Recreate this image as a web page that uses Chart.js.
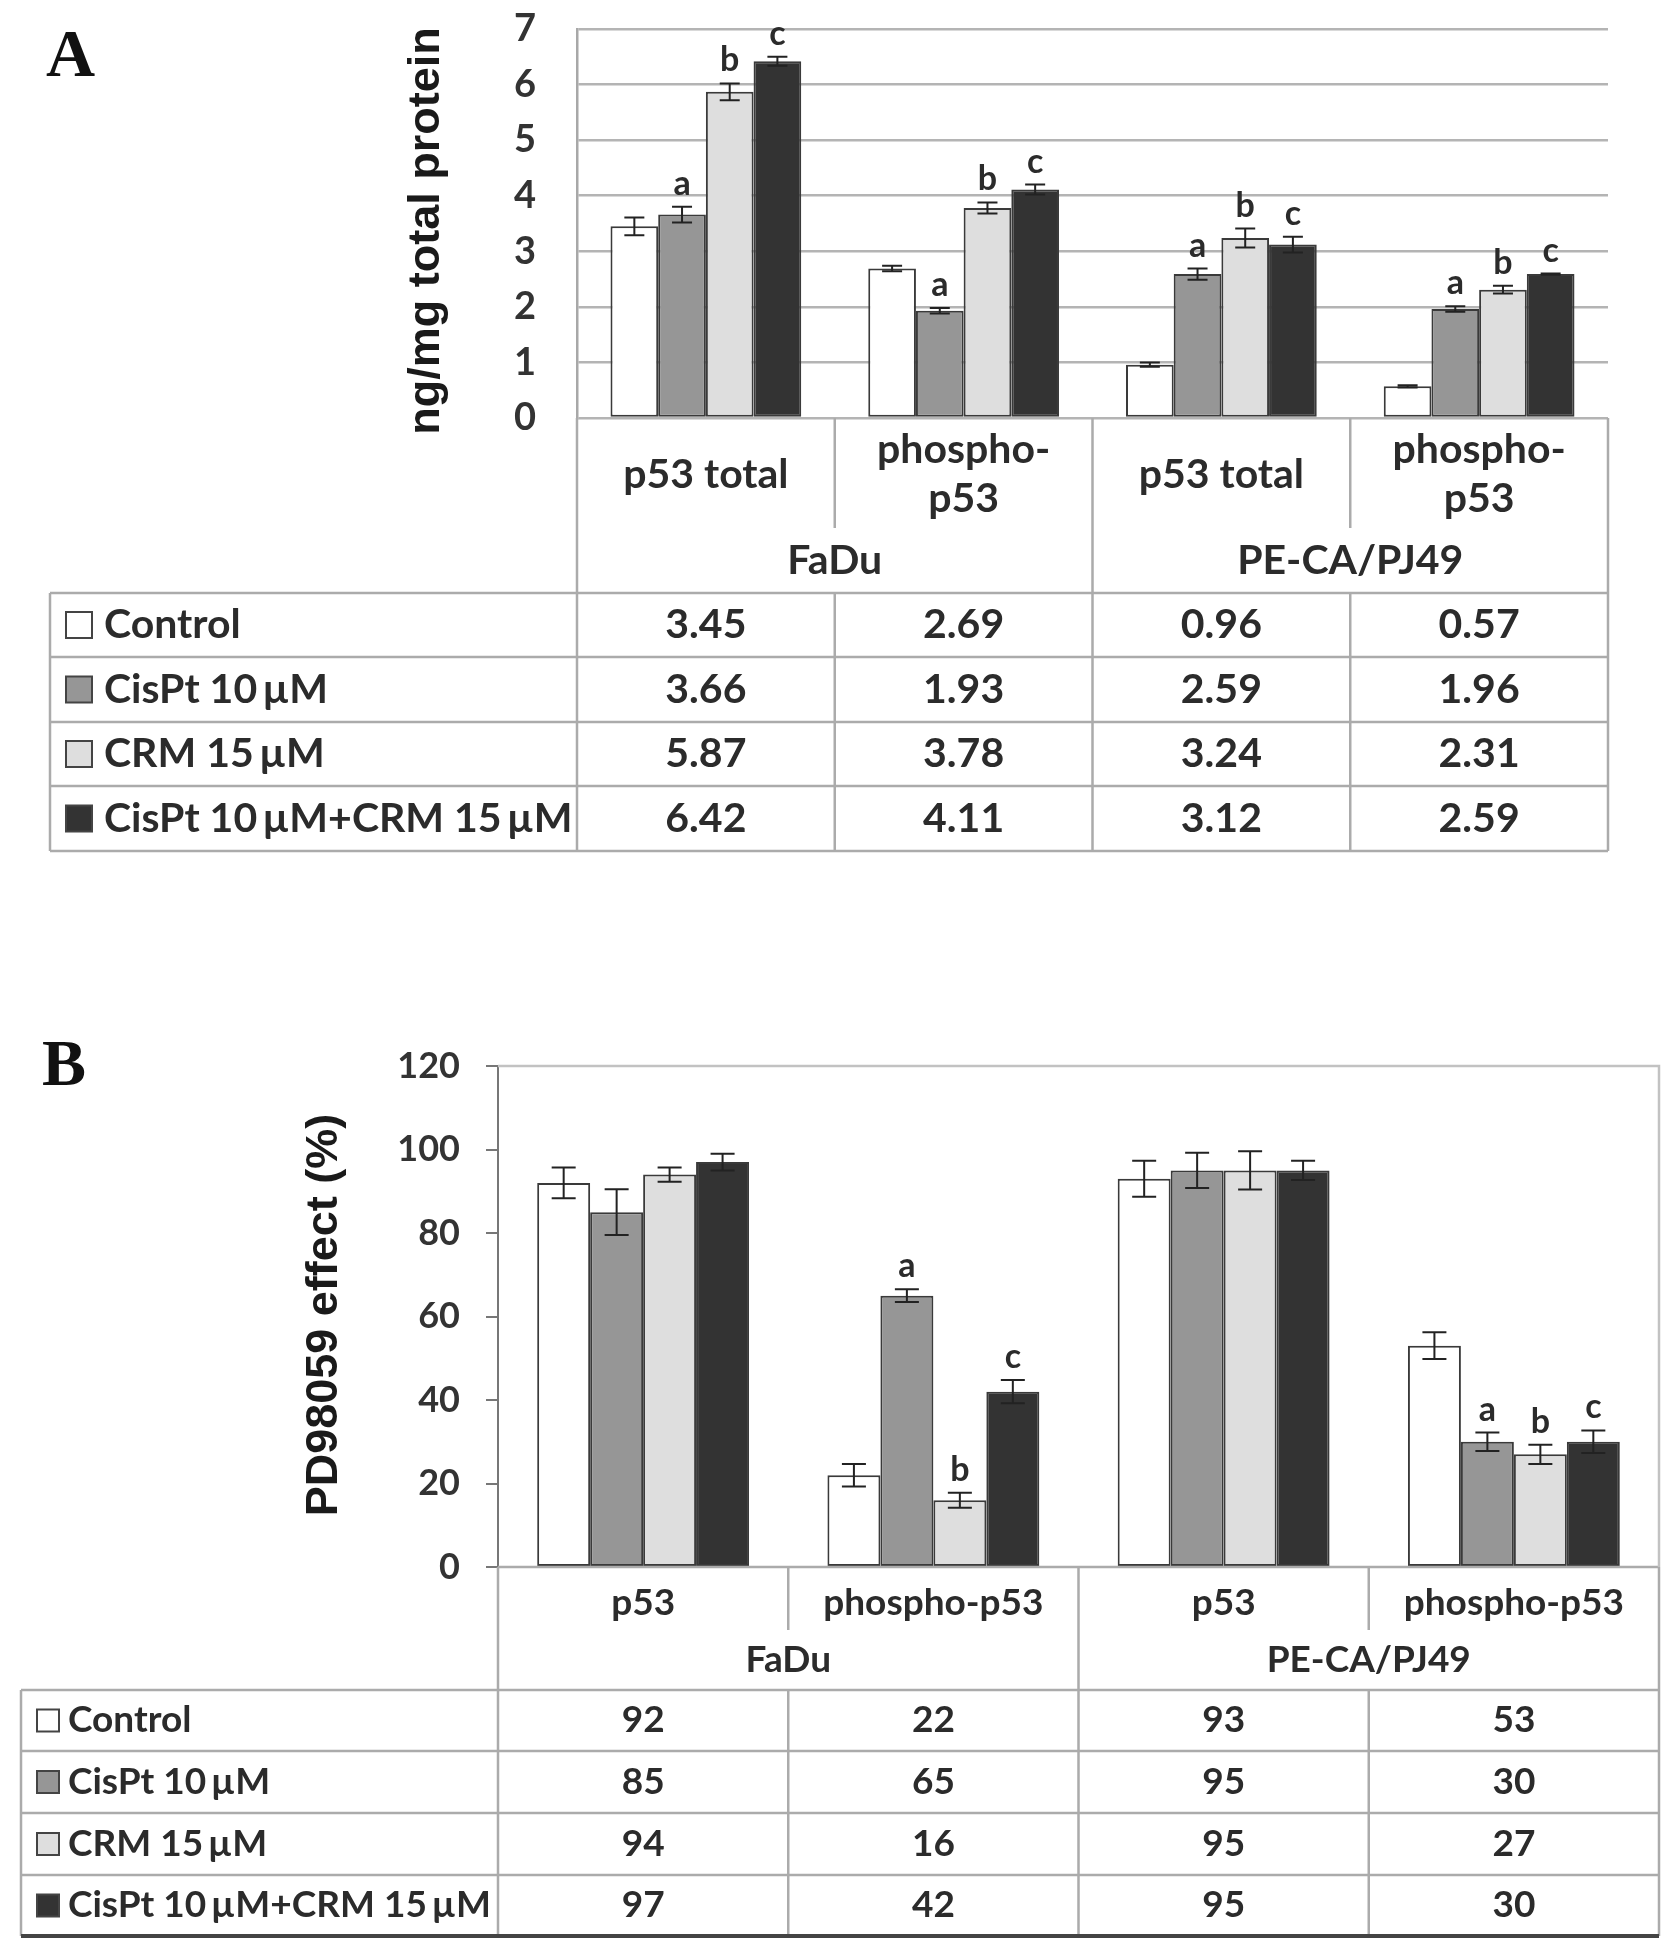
<!DOCTYPE html>
<html>
<head>
<meta charset="utf-8">
<script src="https://cdn.jsdelivr.net/npm/chart.js@4.4.1/dist/chart.umd.min.js"></script>
<style>
  body { margin: 0; background: #fff; width: 1677px; height: 1955px; position: relative; overflow: hidden; }
  canvas { position: absolute; left: 0; }
  #chartA { top: 0; }
  #chartB { top: 880px; }
</style>
</head>
<body>
<canvas id="chartA" width="1677" height="880"></canvas>
<canvas id="chartB" width="1677" height="1075"></canvas>
<script>
// treatments (series) and their fills
const seriesNames = ['Control', 'CisPt 10\u2009\u00b5M', 'CRM 15\u2009\u00b5M', 'CisPt 10\u2009\u00b5M+CRM 15\u2009\u00b5M'];
const seriesColors = ['#ffffff', '#969696', '#dedede', '#333333'];
const groups = ['FaDu', 'PE-CA/PJ49'];

// panel A: ng/mg total protein
const catsA = [['p53 total'], ['phospho-', 'p53'], ['p53 total'], ['phospho-', 'p53']];
const controlA = [3.45, 2.69, 0.96, 0.57];
const cispA = [3.66, 1.93, 2.59, 1.96];
const crmA = [5.87, 3.78, 3.24, 2.31];
const comboA = [6.42, 4.11, 3.12, 2.59];
const errA = [
  [0.16, 0.05, 0.04, 0.02],
  [0.14, 0.05, 0.10, 0.05],
  [0.15, 0.10, 0.17, 0.07],
  [0.08, 0.09, 0.14, 0.01]
];
const lettersA = [
  ['', '', '', ''],
  ['a', 'a', 'a', 'a'],
  ['b', 'b', 'b', 'b'],
  ['c', 'c', 'c', 'c']
];
const ticksA = [0, 1, 2, 3, 4, 5, 6, 7];

// panel B: PD98059 effect (%)
const catsB = [['p53'], ['phospho-p53'], ['p53'], ['phospho-p53']];
const controlB = [92, 22, 93, 53];
const cispB = [85, 65, 95, 30];
const crmB = [94, 16, 95, 27];
const comboB = [97, 42, 95, 30];
const errB = [
  [3.7, 2.7, 4.3, 3.2],
  [5.5, 1.5, 4.2, 2.2],
  [1.7, 1.8, 4.6, 2.3],
  [2.0, 2.8, 2.3, 2.7]
];
const lettersB = [
  ['', '', '', ''],
  ['', 'a', '', 'a'],
  ['', 'b', '', 'b'],
  ['', 'c', '', 'c']
];
const ticksB = [0, 20, 40, 60, 80, 100, 120];

const FONT = 'Lato, "Open Sans", sans-serif';
const INK = '#2b2b2b';
const RULE = '#ababab';

function makeDatasets(rows) {
  return rows.map((d, i) => ({
    label: seriesNames[i],
    data: d,
    backgroundColor: seriesColors[i],
    borderColor: '#3a3a3a',
    borderWidth: 2,
    borderSkipped: false
  }));
}

// error bars + significance letters
function errorPlugin(errs, letters, cap, letterSize, gap) {
  return {
    id: 'errs',
    afterDatasetsDraw(chart) {
      const ctx = chart.ctx, y = chart.scales.y;
      chart.data.datasets.forEach((ds, i) => {
        chart.getDatasetMeta(i).data.forEach((bar, j) => {
          const v = ds.data[j], e = errs[i][j];
          const top = y.getPixelForValue(v + e), bot = y.getPixelForValue(v - e);
          ctx.save();
          ctx.strokeStyle = '#222';
          ctx.lineWidth = 2;
          ctx.beginPath();
          ctx.moveTo(bar.x, top); ctx.lineTo(bar.x, bot);
          ctx.moveTo(bar.x - cap, top); ctx.lineTo(bar.x + cap, top);
          ctx.moveTo(bar.x - cap, bot); ctx.lineTo(bar.x + cap, bot);
          ctx.stroke();
          if (letters[i][j]) {
            ctx.fillStyle = INK;
            ctx.font = 'bold ' + letterSize + 'px ' + FONT;
            ctx.textAlign = 'center';
            ctx.textBaseline = 'alphabetic';
            ctx.fillText(letters[i][j], bar.x, top - gap);
          }
          ctx.restore();
        });
      });
    }
  };
}

// data table under the plot, titles, panel letter
function tablePlugin(cfg) {
  return {
    id: 'tbl',
    afterDraw(chart) {
      const ctx = chart.ctx, a = chart.chartArea;
      const n = cfg.cats.length;
      const step = (a.right - a.left) / n;
      const rows = cfg.rows;
      const last = rows[rows.length - 1];
      ctx.save();
      ctx.strokeStyle = RULE;
      ctx.lineWidth = 2.5;
      ctx.beginPath();
      // header frame
      ctx.moveTo(a.left, a.bottom); ctx.lineTo(a.left, last);
      ctx.moveTo(a.right, a.bottom); ctx.lineTo(a.right, last);
      ctx.moveTo(a.left + 2 * step, a.bottom); ctx.lineTo(a.left + 2 * step, last);
      [1, 3].forEach(k => {
        ctx.moveTo(a.left + k * step, a.bottom); ctx.lineTo(a.left + k * step, cfg.catSepBottom);
        ctx.moveTo(a.left + k * step, rows[0]); ctx.lineTo(a.left + k * step, last);
      });
      if (cfg.axisLine) { ctx.moveTo(a.left, a.bottom); ctx.lineTo(a.right, a.bottom); }
      // legend rows
      ctx.moveTo(cfg.left, rows[0]); ctx.lineTo(cfg.left, last);
      rows.forEach((r, k) => {
        if (k === rows.length - 1 && cfg.heavyBottom) return;
        ctx.moveTo(cfg.left, r); ctx.lineTo(a.right, r);
      });
      ctx.stroke();
      if (cfg.heavyBottom) {
        ctx.strokeStyle = '#444';
        ctx.lineWidth = 4;
        ctx.beginPath();
        ctx.moveTo(cfg.left, last); ctx.lineTo(a.right, last);
        ctx.stroke();
      }
      if (cfg.frame) {
        ctx.strokeStyle = '#c2c2c2';
        ctx.lineWidth = 2.5;
        ctx.beginPath();
        ctx.moveTo(a.left, a.top); ctx.lineTo(a.right, a.top); ctx.lineTo(a.right, a.bottom);
        ctx.stroke();
      }

      // header labels
      ctx.fillStyle = INK;
      ctx.font = 'bold ' + cfg.size + 'px ' + FONT;
      ctx.textAlign = 'center';
      ctx.textBaseline = 'middle';
      cfg.cats.forEach((lines, k) => {
        const cx = a.left + (k + 0.5) * step;
        const ys = lines.length === 1 ? [cfg.catY] : cfg.catY2;
        lines.forEach((t, m) => ctx.fillText(t, cx, ys[m]));
      });
      groups.forEach((g, k) => ctx.fillText(g, a.left + (2 * k + 1) * step, cfg.groupY));

      // legend rows with values
      cfg.values.forEach((vals, i) => {
        const cy = (rows[i] + rows[i + 1]) / 2;
        ctx.fillStyle = seriesColors[i];
        ctx.fillRect(cfg.swX, cy - cfg.sw / 2, cfg.sw, cfg.sw);
        ctx.strokeStyle = '#444';
        ctx.lineWidth = 2;
        ctx.strokeRect(cfg.swX, cy - cfg.sw / 2, cfg.sw, cfg.sw);
        ctx.fillStyle = INK;
        ctx.textAlign = 'left';
        ctx.fillText(seriesNames[i], cfg.textX, cy);
        ctx.textAlign = 'center';
        vals.forEach((v, k) => ctx.fillText(v.toFixed(cfg.decimals), a.left + (k + 0.5) * step, cy));
      });

      // y axis title
      ctx.save();
      ctx.translate(cfg.titleX, cfg.titleY);
      ctx.rotate(-Math.PI / 2);
      ctx.font = 'bold ' + cfg.titleSize + 'px "Liberation Sans", Arial, sans-serif';
      ctx.fillStyle = '#1a1a1a';
      ctx.textAlign = 'center';
      ctx.textBaseline = 'alphabetic';
      ctx.fillText(cfg.title, 0, 0);
      ctx.restore();

      // panel letter
      ctx.font = 'bold ' + cfg.panelSize + 'px "Liberation Serif", "DejaVu Serif", serif';
      ctx.fillStyle = '#111';
      ctx.textAlign = 'left';
      ctx.textBaseline = 'alphabetic';
      ctx.fillText(cfg.panel, cfg.panelX, cfg.panelY);
      ctx.restore();
    }
  };
}

// fixed axis width; drop the label padding Chart.js adds above/below the plot
function fixAxis(width) {
  return s => {
    s.width = width;
    s.paddingTop = 0;
    s.paddingBottom = 0;
  };
}

Chart.defaults.font.family = FONT;
Chart.defaults.color = INK;

new Chart(document.getElementById('chartA'), {
  type: 'bar',
  data: {
    labels: catsA.map(c => c.join(' ')),
    datasets: makeDatasets([controlA, cispA, crmA, comboA])
  },
  options: {
    responsive: false,
    animation: false,
    events: [],
    layout: { padding: { left: 0, right: 69, top: 29, bottom: 462 } },
    datasets: { bar: { categoryPercentage: 0.74, barPercentage: 1.0 } },
    plugins: { legend: { display: false }, tooltip: { enabled: false } },
    scales: {
      x: { display: false },
      y: {
        min: 0, max: 7,
        afterFit: fixAxis(577),
        afterBuildTicks: s => { s.ticks = ticksA.map(v => ({ value: v })); },
        ticks: { padding: 41, font: { size: 38, weight: 'bold' }, color: '#333' },
        grid: { color: '#b4b4b4', lineWidth: 2.5, drawTicks: false },
        border: { display: true, color: '#a8a8a8', width: 2.5 }
      }
    }
  },
  plugins: [
    errorPlugin(errA, lettersA, 10, 34, 12),
    tablePlugin({
      cats: catsA, values: [controlA, cispA, crmA, comboA], decimals: 2,
      size: 41, catY: 475, catY2: [450, 499], groupY: 561, catSepBottom: 528,
      rows: [593, 657, 722, 786, 851], left: 50, swX: 66, sw: 26, textX: 104,
      title: 'ng/mg total protein', titleX: 439, titleY: 231, titleSize: 45,
      panel: 'A', panelX: 46, panelY: 76, panelSize: 68
    })
  ]
});

new Chart(document.getElementById('chartB'), {
  type: 'bar',
  data: {
    labels: catsB.map(c => c.join(' ')),
    datasets: makeDatasets([controlB, cispB, crmB, comboB])
  },
  options: {
    responsive: false,
    animation: false,
    events: [],
    layout: { padding: { left: 0, right: 18, top: 186, bottom: 388 } },
    datasets: { bar: { categoryPercentage: 0.73, barPercentage: 1.0 } },
    plugins: { legend: { display: false }, tooltip: { enabled: false } },
    scales: {
      x: { display: false },
      y: {
        min: 0, max: 120,
        afterFit: fixAxis(498),
        afterBuildTicks: s => { s.ticks = ticksB.map(v => ({ value: v })); },
        ticks: { padding: 26, font: { size: 36, weight: 'bold' }, color: '#333' },
        grid: { drawOnChartArea: false, drawTicks: true, tickLength: 12, color: '#777', lineWidth: 2 },
        border: { display: true, color: '#777', width: 2 }
      }
    }
  },
  plugins: [
    errorPlugin(errB, lettersB, 12, 34, 12),
    tablePlugin({
      cats: catsB, values: [controlB, cispB, crmB, comboB], decimals: 0,
      size: 37, catY: 723, catY2: [723], groupY: 780, catSepBottom: 750,
      rows: [810, 871, 933, 995, 1056], left: 21, swX: 37, sw: 22, textX: 68,
      axisLine: true, heavyBottom: true, frame: true,
      title: 'PD98059 effect (%)', titleX: 337, titleY: 435, titleSize: 45,
      panel: 'B', panelX: 42, panelY: 205, panelSize: 66
    })
  ]
});
</script>
</body>
</html>
